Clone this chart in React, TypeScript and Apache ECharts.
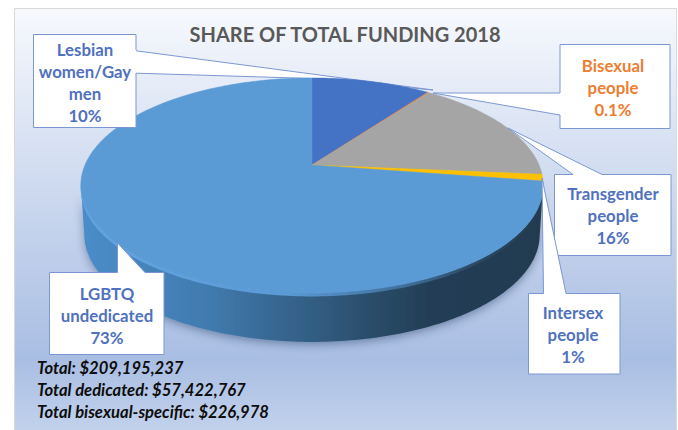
import React, { useEffect, useRef } from "react";
import * as echarts from "echarts";

const categories = ["Lesbian women/Gay men", "Bisexual people", "Transgender people", "Intersex people", "LGBTQ undedicated"];
const shares = [10, 0.1, 16.3, 1, 72.6];
const shareLabels = ["10%", "0.1%", "16%", "1%", "73%"];
const sliceColors = ["#4472C4", "#ED7D31", "#A5A5A5", "#FFC000", "#5B9BD5"];
const labelLines = [
  ["Lesbian", "women/Gay", "men"],
  ["Bisexual", "people"],
  ["Transgender", "people"],
  ["Intersex", "people"],
  ["LGBTQ", "undedicated"],
];
const titleText = "SHARE OF TOTAL FUNDING 2018";
const footerLines = ["Total: $209,195,237", "Total dedicated: $57,422,767", "Total bisexual-specific: $226,978"];

const FONT = "Lato, Carlito, 'Noto Sans', sans-serif";
const BLUE = "#4F71BE";
const EDGE = "#7C98D2";
const APEX = [312, 165];
const A = 227, B = 103.6, K = 0.19, DEPTH = 49;

function project(deg: number): [number, number] {
  const r = (deg * Math.PI) / 180;
  const u = Math.sin(r), v = Math.cos(r);
  const w = 1 + K * v;
  return [APEX[0] + (A * u) / w, APEX[1] - (B * v) / w];
}
function lower(p: [number, number]): [number, number] {
  return [APEX[0] + (p[0] - APEX[0]) * 0.985, p[1] + DEPTH];
}

const total = shares.reduce((a, b) => a + b, 0);
const startAngles: number[] = [];
shares.reduce((acc, v, i) => {
  startAngles[i] = (acc / total) * 360;
  return acc + v;
}, 0);

function arcPts(a0: number, a1: number): [number, number][] {
  const pts: [number, number][] = [];
  const n = Math.max(1, Math.ceil(Math.abs(a1 - a0)));
  for (let i = 0; i <= n; i++) pts.push(project(a0 + ((a1 - a0) * i) / n));
  return pts;
}

function extremes(): [number, number] {
  let lo = 0, hi = 0, loX = Infinity, hiX = -Infinity;
  for (let d = 0; d < 360; d += 0.5) {
    const x = project(d)[0];
    if (x > hiX) { hiX = x; hi = d; }
    if (x < loX) { loX = x; lo = d; }
  }
  return [hi, lo];
}

function poly(points: number[][], z: number, fill = "#fff", stroke: string | undefined = EDGE) {
  return { type: "polygon", z, silent: true, shape: { points }, style: { fill, stroke, lineWidth: 1 } };
}
function label(lines: string[], cx: number, cy: number, color: string, z = 12) {
  return {
    type: "text", z, silent: true, x: cx, y: cy,
    style: {
      text: lines.join("\n"), fill: color, fontFamily: FONT, fontWeight: "bold", fontSize: 16.8,
      lineHeight: 22, align: "center", verticalAlign: "middle",
    },
  };
}

function buildGraphics() {
  const els: any[] = [];
  els.push({
    type: "rect", z: -10, silent: true, shape: { x: 14.5, y: 8.5, width: 662, height: 423 },
    style: {
      stroke: "#D9D9D9", lineWidth: 1,
      fill: new echarts.graphic.LinearGradient(0, 0, 0, 1, [
        { offset: 0, color: "#F7F9FD" },
        { offset: 0.5, color: "#C6D4ED" },
        { offset: 0.83, color: "#A9BEE3" },
        { offset: 1, color: "#C2D2EC" },
      ]),
    },
  });
  els.push(poly([[130, 50], [433, 90], [312, 78.5], [130, 73]], 1));
  els.push({ type: "rect", z: 10, silent: true, shape: { x: 33.5, y: 34.5, width: 102.5, height: 93 }, style: { fill: "#fff" } });
  els.push({
    type: "polyline", z: 11, silent: true,
    shape: { points: [[136, 50], [136, 34.5], [33.5, 34.5], [33.5, 127.5], [136, 127.5], [136, 73]] },
    style: { stroke: EDGE, lineWidth: 1, fill: "none" },
  });
  els.push(poly([[560, 44.5], [670, 44.5], [670, 128.5], [560, 128.5], [560, 115], [433, 93], [560, 93]], 10));
  els.push(poly([[554.5, 174.5], [573, 174.5], [508, 128], [602, 174.5], [671, 174.5], [671, 255.5], [554.5, 255.5]], 10));
  els.push(poly([[528.5, 293.5], [543.5, 293.5], [542, 178], [566, 293.5], [620, 293.5], [620, 374], [528.5, 374]], 10));
  els.push(poly([[49.5, 272.5], [117.5, 272.5], [117.5, 243], [145, 272.5], [164, 272.5], [164, 354.5], [49.5, 354.5]], 10));

  els.push(label([...labelLines[0], shareLabels[0]], 85, 82, BLUE));
  els.push(label([...labelLines[1], shareLabels[1]], 613, 87, "#ED7D31"));
  els.push(label([...labelLines[2], shareLabels[2]], 613, 215.5, BLUE));
  els.push(label([...labelLines[3], shareLabels[3]], 573, 334, BLUE));
  els.push(label([...labelLines[4], shareLabels[4]], 107, 315, BLUE));

  els.push({
    type: "text", z: 12, silent: true, x: 37, y: 390,
    style: {
      text: footerLines.join("\n"), fill: "#0D0D0D", fontFamily: FONT, fontWeight: "bold", fontStyle: "italic",
      fontSize: 16.6, lineHeight: 22, align: "left", verticalAlign: "middle",
    },
  });
  return els;
}

function renderWall(params: any) {
  const [hi, lo] = extremes();
  const top = arcPts(hi, lo);
  const bottom = top.map(lower).reverse();
  const wallFill = new echarts.graphic.LinearGradient(0, 0, 1, 0, [
    { offset: 0, color: "#4B8DC9" },
    { offset: 0.28, color: "#417AAE" },
    { offset: 0.55, color: "#2F5779" },
    { offset: 0.75, color: "#233E55" },
    { offset: 1, color: "#233B50" },
  ]);
  const rimFill = new echarts.graphic.LinearGradient(0, 0, 1, 0, [
    { offset: 0, color: "#62A5E2" },
    { offset: 0.45, color: "#5A9AD6" },
    { offset: 0.7, color: "#3F6F99" },
    { offset: 0.85, color: "#2B4A64" },
    { offset: 1, color: "#233B50" },
  ]);
  const rim = arcPts(hi, lo);
  const rimPts = [...rim, ...rim.map((p) => [p[0], p[1] + 3.5]).reverse()];
  return {
    type: "group",
    children: [
      {
        type: "polygon",
        shape: { points: [...top, ...bottom] },
        style: { fill: wallFill, shadowBlur: 9, shadowColor: "rgba(40,60,100,0.45)", shadowOffsetY: 3 },
      },
      { type: "polygon", shape: { points: rimPts }, style: { fill: rimFill } },
    ],
  };
}

function renderSlice(params: any, api: any) {
  const i = params.dataIndex;
  const v = api.value(0);
  const a0 = startAngles[i];
  const a1 = a0 + (v / total) * 360;
  const pts = [APEX, ...arcPts(a0, a1)];
  return {
    type: "polygon",
    shape: { points: pts },
    style: { fill: sliceColors[i], stroke: sliceColors[i], lineWidth: i === 1 ? 0.4 : 0.5 },
  };
}

export default function App() {
  const ref = useRef<HTMLDivElement>(null);
  useEffect(() => {
    document.body.style.margin = "0";
    const chart = echarts.init(ref.current!, undefined, { renderer: "svg" });
    chart.setOption({
      animation: false,
      backgroundColor: "#fff",
      title: {
        text: titleText, left: 345, top: 19, textAlign: "center", z: 12, padding: [5, 8, 5, 0],
        textStyle: { color: "#595959", fontFamily: FONT, fontWeight: "bold", fontSize: 20 },
      },
      graphic: { elements: buildGraphics() },
      series: [
        { type: "custom", name: "wall", coordinateSystem: "none", z: 2, silent: true, data: [[1]], renderItem: renderWall },
        {
          type: "custom", name: "share", coordinateSystem: "none", z: 3, silent: true,
          data: shares.map((v, i) => ({ name: categories[i], value: [v] })),
          renderItem: renderSlice,
        },
      ],
    });
    return () => chart.dispose();
  }, []);
  return <div ref={ref} style={{ width: 678, height: 430 }} />;
}
